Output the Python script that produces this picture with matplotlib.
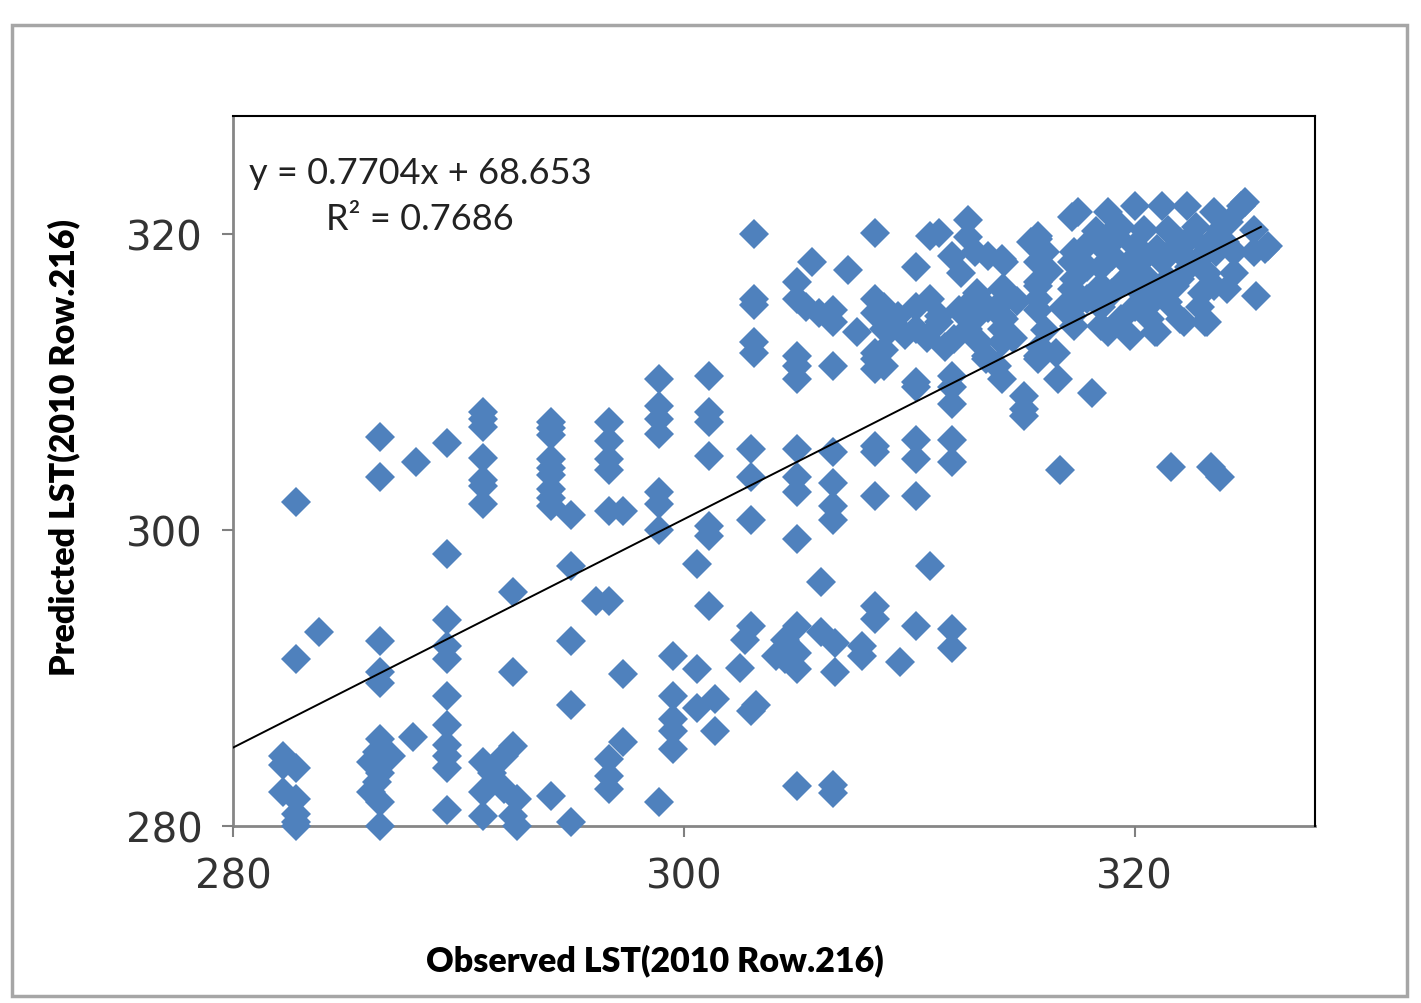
# -*- coding: utf-8 -*-
# Observed vs predicted LST scatter with linear trend line
import matplotlib
matplotlib.use("Agg")
import matplotlib.pyplot as plt
from matplotlib.patches import Rectangle

##### data (K)
# lower-left group
obs_low = [282.2, 282.2, 282.8, 282.2, 282.8, 282.8, 282.8, 282.8,
           282.8, 282.8, 283.8,
           286.5, 286.5, 288.1, 286.5, 286.5, 286.5,
           286.5, 286.4, 286.1, 287.0, 286.5, 286.4, 286.1, 286.5, 286.5, 288.0,
           289.5, 289.5, 289.5, 289.5, 289.5, 289.5, 289.5, 289.5, 289.5, 289.5, 289.5,
           291.1, 291.1, 291.1, 291.1, 291.1, 291.1, 291.1,
           292.4, 292.4,
           291.1, 292.4, 292.0, 291.5, 292.0, 291.1, 292.6, 291.1, 292.4, 292.6,
           294.1,
           294.1, 294.1, 294.1, 294.1, 294.1, 294.1, 294.1, 294.1, 294.1]
pred_low = [284.7, 284.1, 283.9, 282.3, 281.8, 280.8, 280.3, 280.0,
            301.9, 291.3, 293.1,
            306.3, 303.6, 304.6, 292.5, 290.4, 289.7,
            285.9, 285.0, 284.3, 284.7, 283.6, 283.0, 282.3, 281.6, 280.0, 286.0,
            305.9, 298.4, 293.9, 292.2, 291.3, 288.8, 286.8, 285.5, 284.7, 283.9, 281.1,
            308.0, 307.5, 307.0, 304.9, 303.4, 303.0, 301.8,
            295.8, 290.4,
            284.3, 285.4, 284.7, 283.6, 282.5, 282.3, 281.8, 280.7, 280.7, 280.0,
            282.0,
            307.3, 306.9, 306.4, 304.8, 304.2, 303.7, 302.8, 302.2, 301.6]

# middle group
obs_mid = [295.0, 295.0, 295.0, 295.0, 295.0,
           296.1, 296.7,
           296.7, 296.7, 296.7, 296.7, 296.7, 297.3,
           297.3, 297.3, 296.7, 296.7, 296.7,
           298.9, 298.9, 298.9, 298.9, 298.9, 298.9, 298.9, 298.9,
           299.5, 299.5, 299.5, 299.5, 299.5,
           300.6, 300.6, 300.6, 301.4, 301.4,
           301.1, 301.1, 301.1, 301.1, 301.1, 301.1, 301.1,
           303.0, 302.7, 302.5,
           303.0, 303.0, 303.0, 303.2, 303.0,
           304.1,
           303.1, 303.1, 303.1, 303.1, 303.1,
           304.5, 304.5]
pred_mid = [301.0, 297.6, 292.5, 288.2, 280.3,
            295.2, 295.2,
            307.3, 306.0, 304.8, 304.1, 301.3, 301.3,
            290.3, 285.7, 284.5, 283.4, 282.5,
            310.2, 308.4, 307.5, 306.5, 302.6, 301.8, 300.0, 281.6,
            291.5, 288.8, 287.2, 286.4, 285.2,
            297.7, 290.6, 288.0, 288.6, 286.4,
            310.4, 308.0, 307.3, 305.0, 300.3, 299.6, 294.9,
            293.5, 292.6, 290.7,
            305.5, 303.6, 300.7, 288.2, 287.8,
            291.5,
            320.0, 315.6, 315.2, 312.7, 312.0,
            292.6, 291.3]

# upper-right group
obs_high = [305.0, 305.0, 305.0, 305.0, 305.0, 305.0, 305.0, 305.0, 305.0, 305.0, 305.0, 305.0, 305.0,
            305.4, 305.7, 306.0, 306.1, 306.1,
            306.6, 306.6, 306.6, 306.6, 306.6, 306.6, 306.6, 306.6, 306.6,
            306.7, 306.7, 307.3, 307.7, 307.9, 307.9,
            308.5, 308.5, 308.5, 308.5, 308.5, 308.5, 308.5, 308.5, 308.5, 308.5, 308.5,
            308.9, 308.9, 308.9, 308.9, 309.2, 309.5, 309.6,
            310.3, 310.3, 310.3, 310.3, 310.3, 310.3, 310.3, 310.3, 310.3,
            310.9, 310.9, 310.9, 311.3, 311.3, 311.3, 311.6,
            311.9, 311.9, 311.9, 311.9, 311.9, 311.9, 311.9, 311.9,
            312.0, 312.2, 312.3, 312.6, 312.6, 312.6, 312.9, 313.1, 313.4, 313.4, 313.5,
            314.1, 314.1, 314.1, 314.1, 314.1, 314.1, 314.1,
            314.2, 314.2, 314.2, 313.9,
            315.1, 315.1, 315.1, 315.4,
            315.7, 315.7, 315.7, 315.7, 315.7, 315.7, 315.7, 315.7, 315.7,
            315.8, 316.5, 316.6, 316.7,
            317.2, 317.2, 317.2, 317.2,
            317.3, 317.3, 317.3, 317.3, 317.5, 317.9, 317.9, 318.1,
            318.5, 318.5, 318.5, 318.5, 318.5, 318.8, 318.8,
            319.4, 319.4, 319.8,
            320.0, 320.0, 320.0, 320.0, 320.0,
            320.4, 320.6, 320.7, 320.9, 321.0, 321.2,
            321.5, 321.5, 321.5, 321.6, 322.0, 322.2, 322.2, 322.3, 322.7,
            322.9, 323.1, 323.2, 323.2, 323.2, 323.4, 323.5, 323.5, 323.8, 323.8,
            324.1, 324.4, 324.4, 324.7, 324.9, 325.3, 325.3, 325.4, 325.8, 325.9,
            319.0, 319.0, 321.0, 321.0, 322.0, 322.0, 323.0, 324.0, 320.5, 318.0,
            313.5, 314.8, 313.0, 316.2, 316.0,
            318.3, 319.2, 319.7, 320.3, 321.2, 321.8, 322.5, 323.0, 323.6, 324.2,
            319.5, 320.8, 322.4, 318.9, 321.5, 313.0, 314.6, 312.8, 310.8, 309.8,
            316.0, 316.8]
pred_high = [316.8, 315.6, 311.8, 311.1, 310.2, 305.5, 303.6, 302.6, 299.4, 293.5, 291.7, 290.6, 282.7,
             315.1, 318.1, 314.7, 296.5, 293.1,
             314.9, 314.1, 311.1, 305.3, 303.2, 301.6, 300.7, 282.8, 282.2,
             292.4, 290.4, 317.6, 313.4, 292.2, 291.5,
             320.1, 315.6, 314.7, 312.0, 311.6, 310.9, 305.7, 305.3, 302.3, 294.9, 294.0,
             315.1, 313.6, 312.2, 311.1, 313.6, 314.5, 291.1,
             317.8, 315.1, 313.6, 310.0, 309.7, 306.1, 304.8, 302.3, 293.5,
             319.9, 315.6, 297.6, 320.1, 314.1, 314.5, 312.4,
             318.5, 310.4, 309.7, 308.5, 306.1, 304.6, 293.3, 292.0,
             312.9, 314.9, 317.4, 321.0, 319.8, 313.6, 318.8, 312.7, 311.8, 311.6, 318.5,
             318.3, 316.3, 315.4, 314.5, 313.6, 312.7, 310.2,
             318.1, 316.3, 314.3, 311.1,
             309.1, 308.2, 307.7, 319.5,
             319.9, 319.7, 318.1, 316.8, 316.5, 315.6, 314.9, 311.8, 311.6,
             312.4, 312.0, 310.2, 304.1,
             321.2, 318.1, 316.3, 314.5,
             318.8, 317.0, 315.1, 313.8, 321.5, 317.8, 315.6, 309.3,
             319.2, 317.8, 316.5, 315.1, 313.8, 321.5, 313.4,
             320.5, 314.3, 313.1,
             321.9, 319.2, 317.8, 316.5, 315.1,
             320.3, 317.0, 314.3, 313.4, 313.4, 321.9,
             320.3, 317.0, 315.4, 304.3, 314.3, 318.5, 314.1, 321.9, 320.5,
             315.1, 314.1, 319.2, 317.4, 314.1, 304.3, 321.5, 316.5, 320.3, 303.6,
             316.3, 318.8, 317.4, 321.9, 322.2, 320.3, 318.8, 315.8, 319.0, 319.2,
             318.5, 316.0, 319.0, 316.0, 317.0, 319.5, 318.5, 319.5, 318.5, 319.5,
             315.0, 315.5, 314.5, 317.5, 313.5,
             320.2, 319.8, 318.0, 316.0, 318.2, 316.5, 319.8, 316.0, 318.8, 320.8,
             316.8, 315.5, 317.8, 320.0, 318.6, 316.0, 313.0, 315.5, 313.0, 313.2,
             318.8, 315.0]

# trend line as drawn (ends)
trend_x = [280.0, 325.6]
trend_y = [285.3, 320.5]
eq_text = "y = 0.7704x + 68.653"
r2_text = "R\u00b2 = 0.7686"
ticks = [280, 300, 320]
##########################################################

fig = plt.figure(figsize=(14.21, 10.04), dpi=100)
fig.patch.set_facecolor("white")
# outer chart border
fig.patches.append(Rectangle((0.0084, 0.007), 0.9817, 0.967, transform=fig.transFigure,
                             fill=False, edgecolor="#a6a6a6", linewidth=2.5))

ax = fig.add_axes([0.164, 0.1763, 0.7614, 0.7072])
blue = "#4F81BD"
ax.plot(obs_low + obs_mid + obs_high, pred_low + pred_mid + pred_high, "D",
        color=blue, markersize=15.5, markeredgewidth=0, clip_on=False, zorder=2)
ax.plot(trend_x, trend_y, color="black", linewidth=1.4, zorder=3)

ax.set_xlim(280, 328)
ax.set_ylim(280, 328)
ax.set_xticks(ticks)
ax.set_yticks(ticks)
ax.set_xticklabels([str(t) for t in ticks])
ax.set_yticklabels([str(t) for t in ticks])
ax.tick_params(direction="out", length=8, width=1.5, color="#808080",
               labelsize=29, labelcolor="#333333")
ax.tick_params(axis="x", pad=14)
ax.tick_params(axis="y", pad=14)

for s in ["top", "right"]:
    ax.spines[s].set_color("black")
    ax.spines[s].set_linewidth(1.5)
for s in ["left", "bottom"]:
    ax.spines[s].set_color("#868686")
    ax.spines[s].set_linewidth(2.0)
    ax.spines[s].set_zorder(1)

lab_font = dict(family=["Lato", "DejaVu Sans"], fontweight="heavy", fontsize=24.5, color="black")
ax.set_xlabel("Observed LST(2010 Row.216)", **lab_font)
ax.set_ylabel("Predicted LST(2010 Row.216)", **lab_font)
# Excel places the titles off-centre
ax.xaxis.set_label_coords(0.39, -0.165)
ax.yaxis.set_label_coords(-0.141, 0.535)

eq_font = dict(family=["Lato", "DejaVu Sans"], fontsize=26, color="#222222")
ax.text(0.173, 0.92, eq_text, transform=ax.transAxes, ha="center", va="center", **eq_font)
ax.text(0.173, 0.855, r2_text, transform=ax.transAxes, ha="center", va="center", **eq_font)

fig.savefig("out.png", dpi=100)
plt.close("all")
